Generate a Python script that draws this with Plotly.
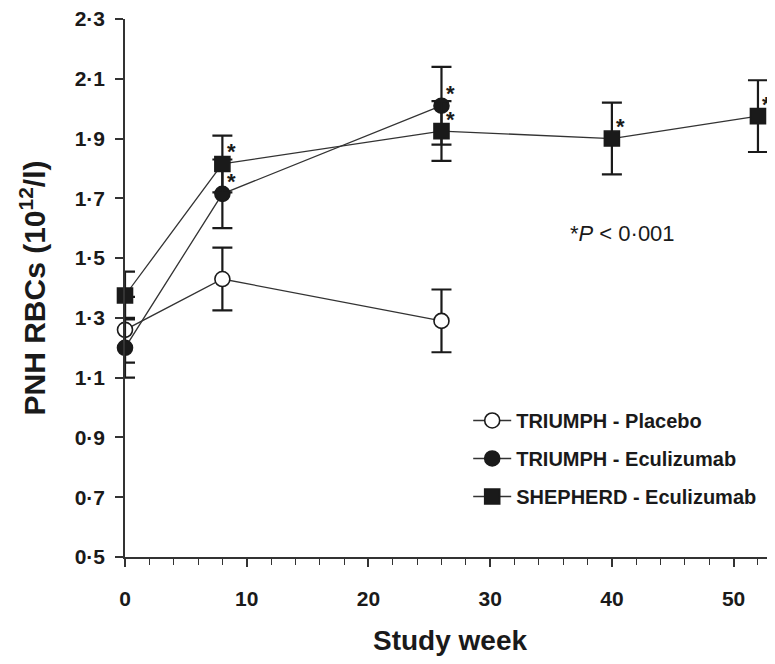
import plotly.graph_objects as go

# ---- data ----
weeks_triumph = [0, 8, 26]
placebo_mean = [1.26, 1.43, 1.29]
placebo_err = [0.11, 0.105, 0.105]
ecu_mean = [1.20, 1.715, 2.01]
ecu_err = [0.10, 0.115, 0.13]
ecu_sig = [False, True, True]

weeks_shepherd = [0, 8, 26, 40, 52]
shep_mean = [1.375, 1.815, 1.925, 1.90, 1.975]
shep_err = [0.08, 0.095, 0.10, 0.12, 0.12]
shep_sig = [False, True, True, True, True]

y_tick_vals = [0.5, 0.7, 0.9, 1.1, 1.3, 1.5, 1.7, 1.9, 2.1, 2.3]
y_tick_text = ["0·5", "0·7", "0·9", "1·1", "1·3", "1·5", "1·7", "1·9", "2·1", "2·3"]
x_tick_vals = [0, 10, 20, 30, 40, 50]

FONT = "Liberation Sans, Arial, sans-serif"
INK = "#1a1a1a"
LINE = "#333333"

fig = go.Figure()

def add_series(name, x, y, err, symbol, fill, group):
    fig.add_trace(go.Scatter(
        x=x, y=y, name=name, mode="lines+markers",
        legendgroup=group,
        line=dict(color=LINE, width=1.3),
        marker=dict(symbol=symbol, size=15,
                    color=fill, line=dict(color=INK, width=1.6)),
        error_y=dict(type="data", array=err, visible=True,
                     color=INK, thickness=2.2, width=10),
        cliponaxis=False,
    ))

add_series("TRIUMPH - Placebo", weeks_triumph, placebo_mean, placebo_err,
           "circle", "white", "a")
add_series("TRIUMPH - Eculizumab", weeks_triumph, ecu_mean, ecu_err,
           "circle", INK, "b")
add_series("SHEPHERD - Eculizumab", weeks_shepherd, shep_mean, shep_err,
           "square", INK, "c")

annotations = []
for xs, ys, sig in [(weeks_triumph, ecu_mean, ecu_sig),
                    (weeks_shepherd, shep_mean, shep_sig)]:
    for xv, yv, s in zip(xs, ys, sig):
        if s:
            annotations.append(dict(
                x=xv, y=yv, xref="x", yref="y", text="*", showarrow=False,
                xshift=9, yshift=12,
                font=dict(family=FONT, size=22, color=INK, weight="bold")))

annotations.append(dict(
    x=40.9, y=1.584, xref="x", yref="y", showarrow=False,
    text="*<i>P</i> &lt; 0·001",
    font=dict(family=FONT, size=22, color=INK)))

# the page body adds an 8px offset; the figure is sized to compensate
fig.update_layout(
    width=767, height=648,
    margin=dict(l=117, r=0, t=11, b=99),
    paper_bgcolor="white", plot_bgcolor="white",
    font=dict(family=FONT, color=INK),
    showlegend=True,
    legend=dict(
        x=0.528, y=0.29, xanchor="left", yanchor="top",
        bgcolor="rgba(0,0,0,0)",
        font=dict(family=FONT, size=20, color=INK, weight="bold"),
        traceorder="grouped", tracegroupgap=9, itemwidth=38,
    ),
    annotations=annotations,
    xaxis=dict(
        range=[0, 53.4], showgrid=False, zeroline=False, automargin=False,
        showline=True, linecolor=LINE, linewidth=1.5,
        tickmode="array", tickvals=x_tick_vals,
        ticks="outside", ticklen=8, tickwidth=1.5, tickcolor=LINE,
        minor=dict(dtick=2, tick0=0, ticks="outside", ticklen=6,
                   tickwidth=1.3, tickcolor=LINE, showgrid=False),
        tickfont=dict(family=FONT, size=21, color=INK, weight="bold"),
        ticklabelstandoff=14, ticklabeloverflow="allow",
        title=dict(text="Study week", standoff=25,
                   font=dict(family=FONT, size=28, color=INK, weight="bold")),
    ),
    yaxis=dict(
        range=[0.5, 2.3], showgrid=False, zeroline=False, automargin=False,
        showline=True, linecolor=LINE, linewidth=1.5,
        tickmode="array", tickvals=y_tick_vals, ticktext=y_tick_text,
        ticks="outside", ticklen=8, tickwidth=1.5, tickcolor=LINE,
        tickfont=dict(family=FONT, size=21, color=INK, weight="bold"),
        ticklabelstandoff=6, ticklabeloverflow="allow",
        title=dict(text="PNH RBCs (10<sup>12</sup>/l)", standoff=20,
                   font=dict(family=FONT, size=30, color=INK, weight="bold")),
    ),
)

fig.write_html("out.html")
